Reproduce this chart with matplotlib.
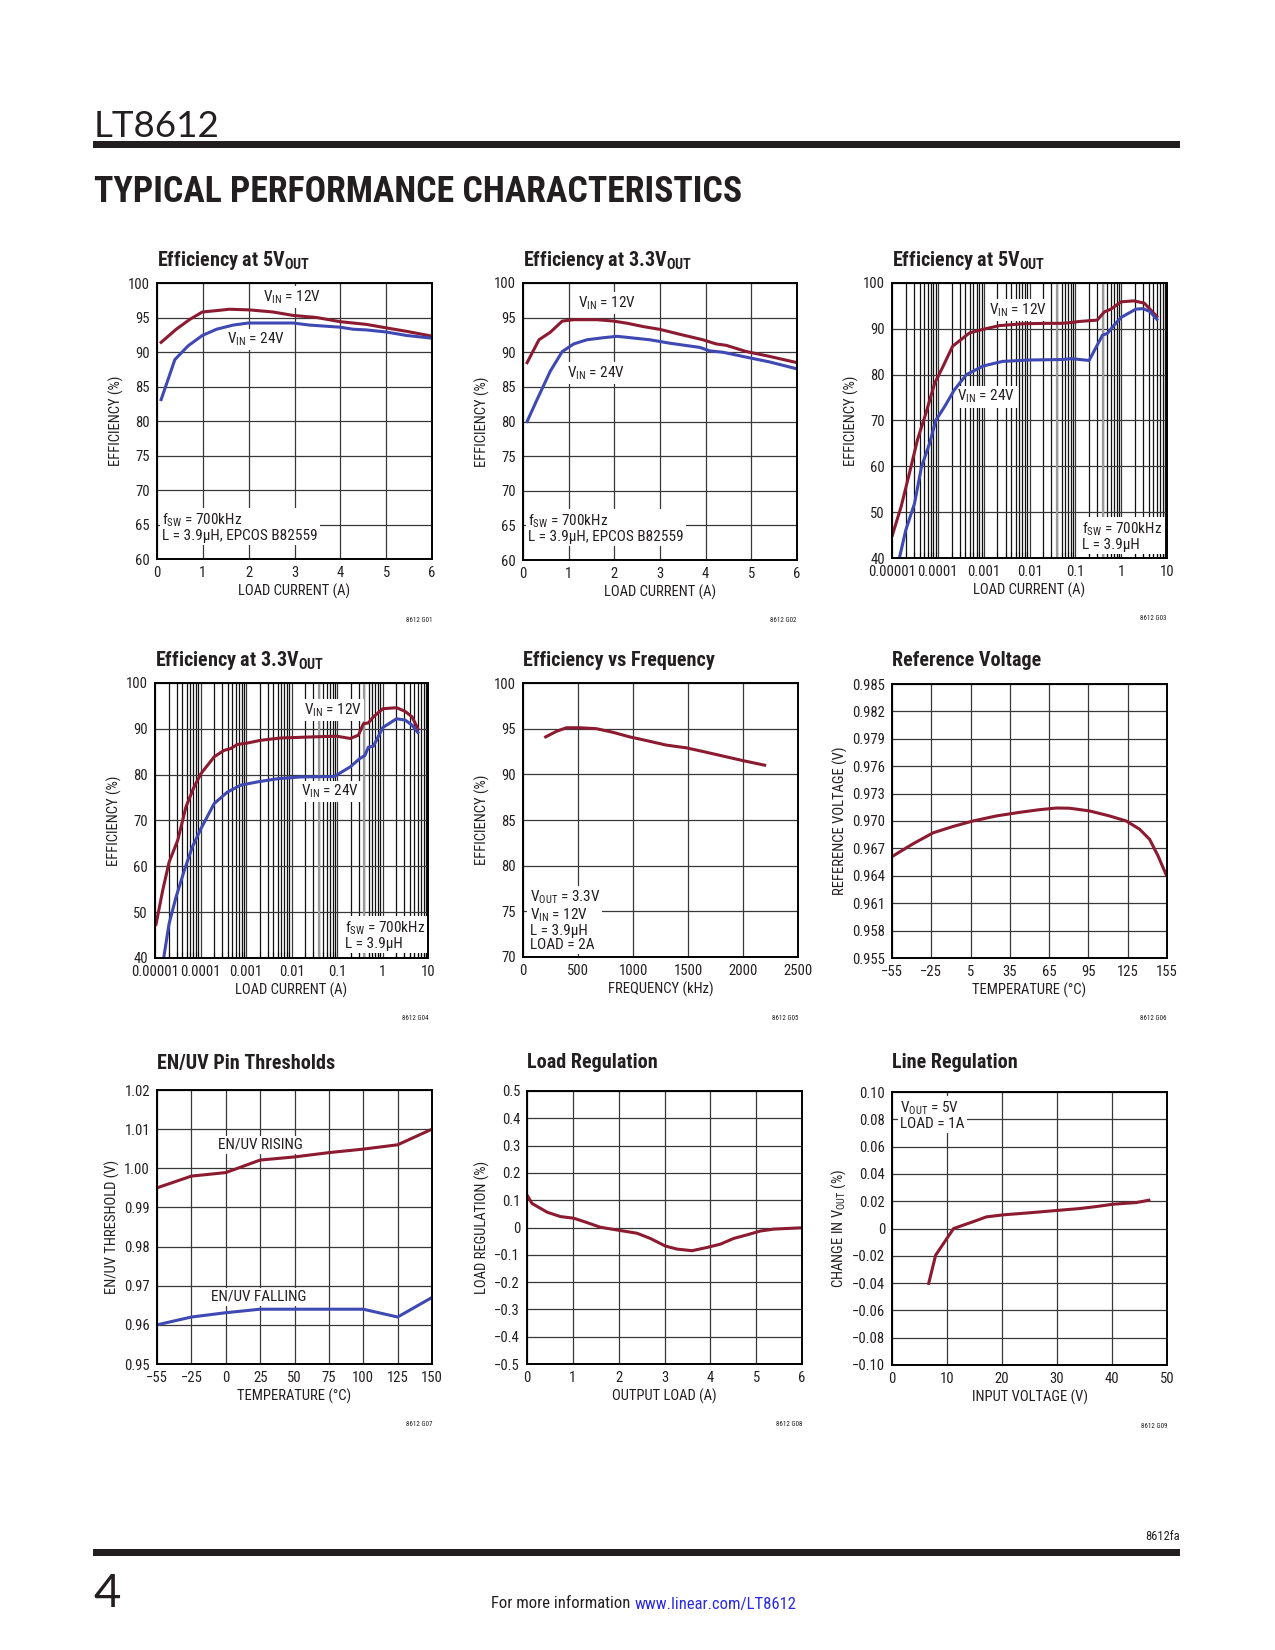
import matplotlib
matplotlib.use('Agg')
import matplotlib.pyplot as plt
from matplotlib import font_manager
from matplotlib.patches import Rectangle
from matplotlib.ticker import LogLocator, NullFormatter

W, H = 1275, 1650
RED = '#8c1a31'
BLUE = '#3f49b3'
INK = '#231f20'
GRID = '#383838'

names = {f.name for f in font_manager.fontManager.ttflist}
NARROW = next((n for n in ['Liberation Sans Narrow', 'Roboto Condensed', 'Liberation Sans']
               if n in names), 'DejaVu Sans')
LIGHT = next((n for n in ['Lato', 'Open Sans', 'Roboto'] if n in names), 'DejaVu Sans')

plt.rcParams['font.family'] = [NARROW, 'DejaVu Sans']
plt.rcParams['mathtext.fontset'] = 'custom'
plt.rcParams['mathtext.rm'] = NARROW
plt.rcParams['mathtext.bf'] = NARROW + ':bold'
plt.rcParams['mathtext.it'] = NARROW + ':italic'
plt.rcParams['text.color'] = INK

# ---- data ----
# G01 efficiency at 5VOUT vs load current (A)
g01_i12 = [0.09, 0.42, 0.71, 0.99, 1.3, 1.58, 2.02, 2.53, 2.97, 3.48, 3.99, 4.28, 4.57, 5.0, 5.44, 6.0]
g01_e12 = [91.4, 93.3, 94.7, 95.8, 96.0, 96.2, 96.1, 95.8, 95.3, 95.0, 94.4, 94.2, 94.0, 93.5, 93.0, 92.3]
g01_i24 = [0.09, 0.39, 0.68, 0.99, 1.3, 1.66, 1.99, 2.53, 2.97, 3.33, 3.99, 4.28, 4.57, 5.0, 5.44, 6.0]
g01_e24 = [83.1, 88.9, 90.9, 92.4, 93.3, 93.9, 94.2, 94.2, 94.2, 93.9, 93.6, 93.3, 93.2, 92.9, 92.4, 92.0]

# G02 efficiency at 3.3VOUT vs load current (A)
g02_i12 = [0.09, 0.35, 0.6, 0.86, 1.11, 1.62, 1.98, 2.27, 2.64, 3.0, 3.43, 3.94, 4.23, 4.45, 4.89, 5.4, 6.0]
g02_e12 = [88.5, 91.8, 92.9, 94.5, 94.7, 94.7, 94.5, 94.2, 93.7, 93.3, 92.6, 91.8, 91.2, 91.0, 90.1, 89.4, 88.5]
g02_i24 = [0.09, 0.31, 0.6, 0.86, 1.11, 1.4, 1.76, 2.06, 2.35, 2.78, 3.22, 3.87, 4.09, 4.38, 4.81, 5.4, 6.0]
g02_e24 = [80.0, 83.2, 87.3, 90.1, 91.2, 91.8, 92.1, 92.3, 92.1, 91.8, 91.3, 90.7, 90.2, 90.0, 89.4, 88.6, 87.6]

# G03 efficiency at 5VOUT, log load current (A)
g03_i12 = [1.02e-5, 1.58e-5, 2.4e-5, 3.6e-5, 5.5e-5, 8.5e-5, 1.3e-4, 2.1e-4, 4.9e-4, 9.8e-4, 2.2e-3,
           7.2e-3, 0.023, 0.052, 0.087, 0.12, 0.30, 0.43, 0.60, 1.0, 1.9, 3.2, 6.0]
g03_e12 = [45.0, 51.2, 58.5, 65.8, 71.6, 78.1, 81.8, 86.2, 89.1, 89.9, 90.7,
           91.1, 91.2, 91.2, 91.4, 91.6, 91.9, 93.7, 94.3, 95.9, 96.1, 95.6, 92.7]
g03_i24 = [1.45e-5, 2.0e-5, 3.1e-5, 4.4e-5, 6.6e-5, 9.1e-5, 1.4e-4, 2.3e-4, 4.2e-4, 9.8e-4, 2.6e-3,
           0.010, 0.052, 0.081, 0.20, 0.39, 0.50, 0.70, 1.0, 2.1, 3.0, 4.2, 6.0]
g03_e24 = [40.0, 46.1, 51.9, 59.9, 65.0, 70.1, 73.0, 76.7, 80.0, 81.9, 82.9,
           83.2, 83.3, 83.5, 83.1, 88.6, 89.0, 90.8, 92.5, 94.3, 94.4, 93.8, 92.1]

# G04 efficiency at 3.3VOUT, log load current (A)
g04_i12 = [1.05e-5, 1.48e-5, 2.04e-5, 3.16e-5, 4.8e-5, 7.2e-5, 1.02e-4, 2.0e-4, 3.3e-4, 4.6e-4, 6.5e-4,
           1.07e-3, 2.1e-3, 5.8e-3, 0.022, 0.098, 0.195, 0.295, 0.38, 0.49, 0.63, 1.02, 2.04, 3.16, 4.47, 6.0]
g04_e12 = [47.3, 54.8, 60.9, 65.7, 73.0, 77.3, 80.2, 83.9, 85.3, 85.7, 86.6,
           86.9, 87.5, 88.0, 88.2, 88.4, 87.9, 88.6, 91.1, 91.3, 92.6, 94.4, 94.6, 93.8, 92.6, 90.0]
g04_i24 = [1.55e-5, 2.04e-5, 2.9e-5, 4.4e-5, 6.6e-5, 1.02e-4, 2.0e-4, 3.9e-4, 7.6e-4, 1.74e-3, 4.8e-3,
           0.0155, 0.083, 0.098, 0.195, 0.316, 0.41, 0.49, 0.63, 1.02, 2.04, 3.16, 4.47, 6.0]
g04_e24 = [40.0, 47.5, 53.3, 59.1, 64.2, 68.2, 73.7, 76.2, 77.7, 78.4, 79.1,
           79.5, 79.6, 79.9, 81.7, 83.5, 84.2, 86.0, 86.2, 90.3, 92.2, 91.9, 90.8, 89.2]

# G05 efficiency vs switching frequency (kHz)
g05_f = [206, 303, 394, 515, 667, 818, 970, 1121, 1303, 1485, 1636, 1818, 2000, 2197]
g05_e = [94.1, 94.7, 95.1, 95.1, 95.0, 94.6, 94.1, 93.7, 93.2, 92.9, 92.5, 92.0, 91.5, 91.0]

# G06 reference voltage vs temperature (C)
g06_t = [-55, -39, -23.7, -8.4, 6.8, 24.6, 42.5, 57.7, 70.5, 80.6, 95.9, 111.2, 123.9, 134.1, 141.7, 148.1, 154.4]
g06_v = [0.9661, 0.9675, 0.9687, 0.9694, 0.9700, 0.97055, 0.97095, 0.97124, 0.97142, 0.9714,
         0.9711, 0.97055, 0.9700, 0.9691, 0.9680, 0.9662, 0.9641]

# G07 EN/UV thresholds, temperature axis is evenly spaced categories
g07_temps = ['\u221255', '\u221225', '0', '25', '50', '75', '100', '125', '150']
g07_rise = [0.9950, 0.9980, 0.9989, 1.0021, 1.0029, 1.0040, 1.0049, 1.0060, 1.0100]
g07_fall = [0.9600, 0.9620, 0.9631, 0.9640, 0.9640, 0.9640, 0.9640, 0.9620, 0.9670]

# G08 load regulation (%) vs output load (A)
g08_i = [0.0, 0.11, 0.44, 0.73, 1.02, 1.31, 1.6, 1.96, 2.4, 2.69, 3.02, 3.27, 3.6, 3.93,
         4.22, 4.51, 4.8, 5.09, 5.38, 6.0]
g08_r = [0.119, 0.088, 0.056, 0.040, 0.034, 0.018, 0.001, -0.009, -0.021, -0.040, -0.068,
         -0.079, -0.085, -0.073, -0.061, -0.040, -0.027, -0.013, -0.006, -0.001]

# G09 line regulation (%) vs input voltage (V)
g09_v = [6.67, 7.94, 11.2, 14.7, 17.15, 20.2, 25.0, 29.9, 34.1, 37.2, 40.2, 44.4, 46.7]
g09_d = [-0.0402, -0.0195, 0.0, 0.0049, 0.0085, 0.0100, 0.0115, 0.0132, 0.0146, 0.0161, 0.0178, 0.0190, 0.0207]

LOG_TICKS = [1e-5, 1e-4, 1e-3, 1e-2, 1e-1, 1, 10]
LOG_LABELS = ['0.00001', '0.0001', '0.001', '0.01', '0.1', '1', '10']

TICK_FS = 10.5
AXLAB_FS = 10.5
TITLE_FS = 14.5
NOTE_FS = 11
LW = 2.2

fig = plt.figure(figsize=(W / 100, H / 100), dpi=100)


def px_axes(l, t, r, b):
    return fig.add_axes([l / W, 1 - b / H, (r - l) / W, (b - t) / H])


def panel(box, title_y, title, fig_id, xlabel, ylabel, logx=False):
    ax = px_axes(*box)
    ax.set_axisbelow(True)
    if logx:
        ax.set_xscale('log')
        ax.set_xlim(1e-5, 10)
        ax.set_xticks(LOG_TICKS)
        ax.set_xticklabels(LOG_LABELS)
        ax.xaxis.set_minor_locator(LogLocator(base=10, subs=range(2, 10), numticks=30))
        ax.xaxis.set_minor_formatter(NullFormatter())
        ax.grid(True, which='minor', axis='x', color='#111111', lw=0.9)
        ax.tick_params(axis='x', which='minor', direction='in', length=4, width=0.8)
        for gx in [0.04, 0.4]:
            ax.axvline(gx, color='#9a9a9a', lw=1.6, zorder=0.6)
    ax.grid(True, which='major', color=GRID, lw=0.9)
    for s in ax.spines.values():
        s.set_linewidth(1.4)
        s.set_color('black')
    ax.tick_params(which='major', length=0, labelsize=TICK_FS, pad=5, colors=INK)
    ax.set_xlabel(xlabel, fontsize=AXLAB_FS, labelpad=3, color=INK)
    ax.set_ylabel(ylabel, fontsize=AXLAB_FS, labelpad=3, color=INK)
    l, t, r, b = box
    fig.text(l / W, 1 - title_y / H, title, fontsize=TITLE_FS, fontweight='bold', va='center', ha='left')
    fig.text(r / W, 1 - (b + 61) / H, fig_id, fontsize=5, ha='right', va='center')
    return ax


def label(ax, x, y, s, ha='center', va='center'):
    ax.text(x, y, s, ha=ha, va=va, fontsize=NOTE_FS, zorder=1, linespacing=1.0,
            bbox=dict(facecolor='white', edgecolor='none', pad=1.5))


VIN12 = r'$\mathrm{V_{IN}}$ = 12V'
VIN24 = r'$\mathrm{V_{IN}}$ = 24V'
FSW = r'$\mathrm{f_{SW}}$ = 700kHz'
EFF = 'EFFICIENCY (%)'
LOAD = 'LOAD CURRENT (A)'

# ---- row 1 ----
ax = panel((157, 283, 432, 559), 260, r'Efficiency at 5$\mathbf{V_{OUT}}$', '8612 G01', LOAD, EFF)
ax.set_xlim(0, 6); ax.set_ylim(60, 100)
ax.set_xticks(range(0, 7)); ax.set_yticks(range(60, 101, 5))
ax.plot(g01_i12, g01_e12, color=RED, lw=LW)
ax.plot(g01_i24, g01_e24, color=BLUE, lw=LW)
label(ax, 2.95, 98.0, VIN12)
label(ax, 2.15, 91.8, VIN24)
label(ax, 0.12, 64.6, FSW + '\nL = 3.9\u00b5H, EPCOS B82559', ha='left')

ax = panel((523, 283, 797, 560), 260, r'Efficiency at 3.3$\mathbf{V_{OUT}}$', '8612 G02', LOAD, EFF)
ax.set_xlim(0, 6); ax.set_ylim(60, 100)
ax.set_xticks(range(0, 7)); ax.set_yticks(range(60, 101, 5))
ax.plot(g02_i12, g02_e12, color=RED, lw=LW)
ax.plot(g02_i24, g02_e24, color=BLUE, lw=LW)
label(ax, 1.84, 97.1, VIN12)
label(ax, 1.6, 87.0, VIN24)
label(ax, 0.12, 64.6, FSW + '\nL = 3.9\u00b5H, EPCOS B82559', ha='left')

ax = panel((892, 283, 1167, 558), 260, r'Efficiency at 5$\mathbf{V_{OUT}}$', '8612 G03', LOAD, EFF, logx=True)
ax.set_ylim(40, 100); ax.set_yticks(range(40, 101, 10))
ax.plot(g03_i12, g03_e12, color=RED, lw=LW)
ax.plot(g03_i24, g03_e24, color=BLUE, lw=LW)
label(ax, 0.0055, 94.1, VIN12)
label(ax, 0.00115, 75.2, VIN24)
label(ax, 0.14, 44.8, FSW + '\nL = 3.9\u00b5H', ha='left')

# ---- row 2 ----
ax = panel((155, 683, 428, 958), 661, r'Efficiency at 3.3$\mathbf{V_{OUT}}$', '8612 G04', LOAD, EFF, logx=True)
ax.set_ylim(40, 100); ax.set_yticks(range(40, 101, 10))
ax.plot(g04_i12, g04_e12, color=RED, lw=LW)
ax.plot(g04_i24, g04_e24, color=BLUE, lw=LW)
label(ax, 0.083, 94.1, VIN12)
label(ax, 0.071, 76.3, VIN24)
label(ax, 0.15, 44.9, FSW + '\nL = 3.9\u00b5H', ha='left')

ax = panel((523, 683, 798, 957), 661, 'Efficiency vs Frequency', '8612 G05', 'FREQUENCY (kHz)', EFF)
ax.set_xlim(0, 2500); ax.set_ylim(70, 100)
ax.set_xticks(range(0, 2501, 500)); ax.set_yticks(range(70, 101, 5))
ax.plot(g05_f, g05_e, color=RED, lw=LW)
label(ax, 60, 74.0, r'$\mathrm{V_{OUT}}$ = 3.3V' + '\n' + VIN12 + '\nL = 3.9\u00b5H\nLOAD = 2A', ha='left')

ax = panel((892, 684, 1167, 958), 661, 'Reference Voltage', '8612 G06', 'TEMPERATURE (\u00b0C)',
           'REFERENCE VOLTAGE (V)')
ax.set_xlim(-55, 155); ax.set_ylim(0.955, 0.985)
ax.set_xticks(range(-55, 156, 30))
ax.set_xticklabels([str(v).replace('-', '\u2212') for v in range(-55, 156, 30)])
ref_ticks = [0.955, 0.958, 0.961, 0.964, 0.967, 0.970, 0.973, 0.976, 0.979, 0.982, 0.985]
ax.set_yticks(ref_ticks); ax.set_yticklabels(['%.3f' % v for v in ref_ticks])
ax.plot(g06_t, g06_v, color=RED, lw=LW)

# ---- row 3 ----
ax = panel((157, 1090, 432, 1364), 1063, 'EN/UV Pin Thresholds', '8612 G07', 'TEMPERATURE (\u00b0C)',
           'EN/UV THRESHOLD (V)')
pos = list(range(len(g07_temps)))
ax.set_xlim(0, len(g07_temps) - 1); ax.set_ylim(0.95, 1.02)
ax.set_xticks(pos); ax.set_xticklabels(g07_temps)
en_ticks = [0.95, 0.96, 0.97, 0.98, 0.99, 1.00, 1.01, 1.02]
ax.set_yticks(en_ticks); ax.set_yticklabels(['%.2f' % v for v in en_ticks])
ax.plot(pos, g07_rise, color=RED, lw=LW)
ax.plot(pos, g07_fall, color=BLUE, lw=LW)
label(ax, 3.0, 1.006, 'EN/UV RISING')
label(ax, 2.96, 0.9672, 'EN/UV FALLING')

ax = panel((527, 1091, 802, 1364), 1063, 'Load Regulation', '8612 G08', 'OUTPUT LOAD (A)',
           'LOAD REGULATION (%)')
ax.set_xlim(0, 6); ax.set_ylim(-0.5, 0.5)
ax.set_xticks(range(0, 7))
lr_ticks = [-0.5 + 0.1 * k for k in range(11)]
ax.set_yticks(lr_ticks)
ax.set_yticklabels([('%.1f' % v).replace('-', '\u2212').replace('\u22120.0', '0').replace('0.0', '0') for v in lr_ticks])
ax.plot(g08_i, g08_r, color=RED, lw=LW)

ax = panel((892, 1092, 1167, 1365), 1063, 'Line Regulation', '8612 G09', 'INPUT VOLTAGE (V)',
           r'CHANGE IN $\mathrm{V_{OUT}}$ (%)')
ax.set_xlim(0, 50); ax.set_ylim(-0.10, 0.10)
ax.set_xticks(range(0, 51, 10))
ln_ticks = [-0.10 + 0.02 * k for k in range(11)]
ax.set_yticks(ln_ticks)
ax.set_yticklabels([('%.2f' % v).replace('-', '\u2212').replace('\u22120.00', '0').replace('0.00', '0') for v in ln_ticks])
ax.plot(g09_v, g09_d, color=RED, lw=LW)
label(ax, 1.5, 0.0828, r'$\mathrm{V_{OUT}}$ = 5V' + '\nLOAD = 1A', ha='left')

# ---- page furniture ----
fig.patches.append(Rectangle((93 / W, 1 - 148 / H), (1180 - 93) / W, 7 / H,
                             transform=fig.transFigure, color=INK, lw=0))
fig.patches.append(Rectangle((93 / W, 1 - 1556 / H), (1180 - 93) / W, 7 / H,
                             transform=fig.transFigure, color=INK, lw=0))
part = fig.text(94 / W, 1 - 137 / H, 'LT8612', fontsize=32, family=[LIGHT, 'DejaVu Sans'],
                fontweight='normal', va='baseline', ha='left')
head = fig.text(94 / W, 1 - 202 / H, 'TYPICAL PERFORMANCE CHARACTERISTICS', fontsize=27,
                fontweight='bold', va='baseline', ha='left')
page = fig.text(93 / W, 1 - 1607 / H, '4', fontsize=34, family=[LIGHT, 'DejaVu Sans'],
                fontweight='normal', va='baseline', ha='left')
fig.text(1180 / W, 1 - 1536 / H, '8612fa', fontsize=9, ha='right', va='center')
info = fig.text(491 / W, 1 - 1604 / H, 'For more information ', fontsize=12, ha='left', va='center')
fig.canvas.draw()
r = fig.canvas.get_renderer()
for t, target in [(part, 126), (head, 649)]:
    w = t.get_window_extent(r).width
    t.set_fontsize(t.get_fontsize() * target / w)
bb = info.get_window_extent(r)
fig.text(bb.x1 / W, 1 - 1604 / H, 'www.linear.com/LT8612', fontsize=12, ha='left', va='center',
         color='#2a2ae6')

fig.savefig('out.png', dpi=100)
